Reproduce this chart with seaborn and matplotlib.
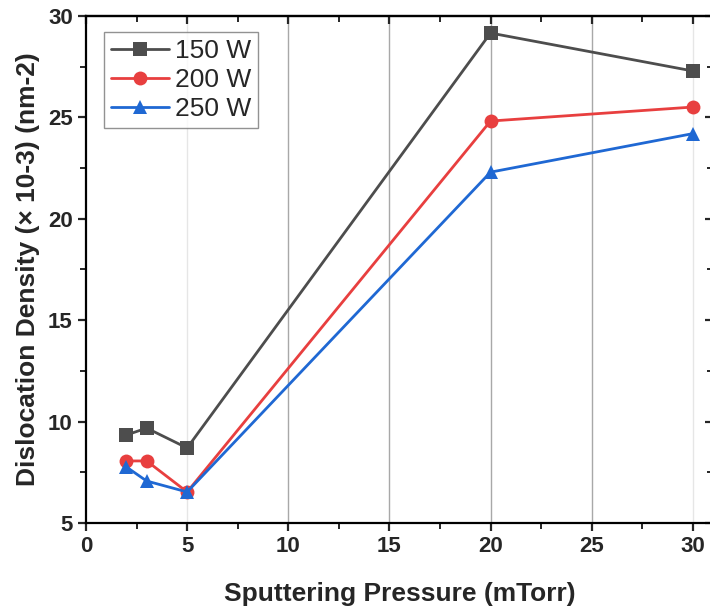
import pandas as pd
import seaborn as sns
import matplotlib.pyplot as plt
from matplotlib.ticker import MultipleLocator, AutoMinorLocator

# data
pressure = [2, 3, 5, 20, 30]
density_150 = [9.34, 9.68, 8.70, 29.16, 27.29]
density_200 = [8.06, 8.06, 6.53, 24.82, 25.51]
density_250 = [7.76, 7.07, 6.53, 22.30, 24.20]
powers = ["150 W", "200 W", "250 W"]

df = pd.DataFrame({
    "pressure": pressure * 3,
    "density": density_150 + density_200 + density_250,
    "power": [p for p in powers for _ in pressure],
})

sns.set_style("white")
plt.rcParams['font.family'] = ['Liberation Sans', 'DejaVu Sans']

colors = {"150 W": "#4d4d4d", "200 W": "#e83f3f", "250 W": "#1f68d3"}
marks = {"150 W": "s", "200 W": "o", "250 W": "^"}

fig = plt.figure(figsize=(7.1, 6.11), dpi=100)
ax = fig.add_axes([86 / 710, 88 / 611, 627 / 710, 507 / 611])

sns.lineplot(data=df, x="pressure", y="density", hue="power", style="power",
             palette=colors, markers=marks, dashes=False, linewidth=2.0,
             markersize=10, markeredgewidth=0, ax=ax)

ax.set_xlim(0, 31)
ax.set_ylim(5, 30)
ax.xaxis.set_major_locator(MultipleLocator(5))
ax.xaxis.set_minor_locator(AutoMinorLocator(2))
ax.yaxis.set_major_locator(MultipleLocator(5))
ax.yaxis.set_minor_locator(AutoMinorLocator(2))

# vertical grid
for xv in [10, 15, 20, 25]:
    ax.axvline(xv, color="#a8a8a8", lw=1, zorder=0)
for xv in [5, 30]:
    ax.axvline(xv, color="#e6e6e6", lw=1, zorder=0)

for s in ax.spines.values():
    s.set_linewidth(1.6)
    s.set_color("black")

ax.tick_params(which="major", direction="out", length=6, width=1.6,
               labelsize=16, bottom=True, left=True)
ax.tick_params(which="minor", direction="out", length=4, width=1.4,
               bottom=True, left=True)
for lab in ax.get_xticklabels() + ax.get_yticklabels():
    lab.set_fontweight("bold")

top = ax.secondary_xaxis("top")
top.xaxis.set_major_locator(MultipleLocator(5))
top.xaxis.set_minor_locator(AutoMinorLocator(2))
top.tick_params(which="major", direction="in", length=6, width=1.6, labeltop=False)
top.tick_params(which="minor", direction="in", length=4, width=1.4)
top.spines["top"].set_linewidth(1.6)

right = ax.secondary_yaxis("right")
right.yaxis.set_major_locator(MultipleLocator(5))
right.yaxis.set_minor_locator(AutoMinorLocator(2))
right.tick_params(which="major", direction="in", length=6, width=1.6, labelright=False)
right.tick_params(which="minor", direction="in", length=4, width=1.4)

ax.set_xlabel("Sputtering Pressure (mTorr)", fontsize=19, fontweight="bold", labelpad=18)
ax.set_ylabel("Dislocation Density (× 10-3) (nm-2)", fontsize=19, fontweight="bold", labelpad=6)

leg = ax.legend(loc="upper left", bbox_to_anchor=(0.029, 0.968), fontsize=19,
                frameon=True, fancybox=False, handlelength=2.2, handletextpad=0.25,
                borderpad=0.25, labelspacing=0.2, borderaxespad=0)
leg.get_frame().set_edgecolor("#777777")
leg.get_frame().set_linewidth(1.0)

fig.savefig("out.png", dpi=100)
